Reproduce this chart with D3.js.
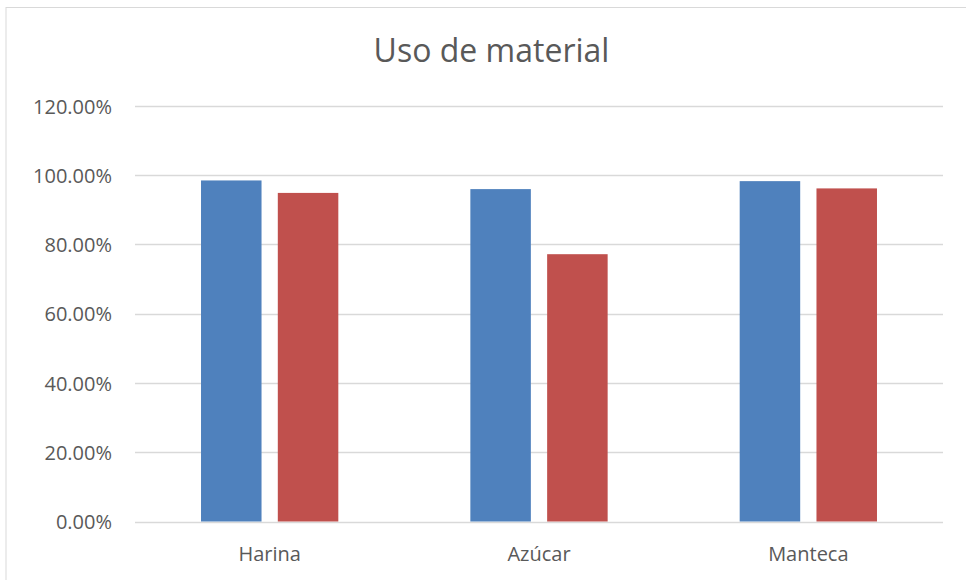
<!DOCTYPE html>
<html><head><meta charset="utf-8">
<script src="https://cdn.jsdelivr.net/npm/d3@7"></script>
<style>body{margin:0;background:#fff;} svg{display:block;}</style>
</head><body>
<script>
const categories = ["Harina", "Azúcar", "Manteca"];
const seriesNames = ["Serie 1", "Serie 2"];
const series1 = [0.985, 0.960, 0.983];
const series2 = [0.949, 0.772, 0.962];
const yTicks = [0, 0.2, 0.4, 0.6, 0.8, 1.0, 1.2];
const colors = ["#4F81BD", "#C0504D"];

(function () {
const W = 966, H = 580;
const svg = d3.select("body").append("svg").attr("width", W).attr("height", H);
svg.append("rect").attr("x", 0).attr("y", 0).attr("width", W).attr("height", H).attr("fill", "#fff");
svg.append("rect").attr("x", 6).attr("y", 7.5).attr("width", W + 10).attr("height", H + 10)
  .attr("fill", "none").attr("stroke", "#d9d9d9").attr("stroke-width", 1);

const mLeft = 135, mRight = 943, mTop = 106, mBottom = 521.5;
const font = "'Open Sans', sans-serif";

const y = d3.scaleLinear().domain([0, 1.2]).range([mBottom, mTop]);
const x0 = d3.scaleBand().domain(categories).range([mLeft, mRight]).padding(0);
const x1 = d3.scaleBand().domain(seriesNames).range([-68.65, 68.65]).paddingInner(0.212).paddingOuter(0);

// grid
svg.append("g").selectAll("line").data(yTicks).join("line")
  .attr("x1", mLeft).attr("x2", mRight)
  .attr("y1", d => Math.round(y(d)) + 0.5).attr("y2", d => Math.round(y(d)) + 0.5)
  .attr("stroke", "#d9d9d9").attr("stroke-width", 1.3);

// y axis labels
const yAxis = d3.axisLeft(y).tickValues(yTicks).tickFormat(d => (d * 100).toFixed(2) + "%").tickSize(0).tickPadding(23);
const ya = svg.append("g").attr("transform", `translate(${mLeft},0)`).call(yAxis);
ya.select(".domain").remove();
ya.selectAll("text").attr("font-family", font).attr("font-size", 20).attr("fill", "#595959").attr("dy", "0.36em");

// bars
const data = categories.map((c, i) => ({ c, vals: [series1[i], series2[i]] }));
const g = svg.append("g").selectAll("g").data(data).join("g")
  .attr("transform", d => `translate(${x0(d.c) + x0.bandwidth() / 2},0)`);
g.selectAll("rect").data(d => d.vals.map((v, j) => ({ v, s: seriesNames[j], j }))).join("rect")
  .attr("x", d => x1(d.s)).attr("width", x1.bandwidth())
  .attr("y", d => y(d.v)).attr("height", d => y(0) - y(d.v))
  .attr("fill", d => colors[d.j]);

// x axis
const xAxis = d3.axisBottom(x0).tickSize(0).tickPadding(25);
const xa = svg.append("g").attr("transform", `translate(0,${mBottom})`).call(xAxis);
xa.select(".domain").remove();
xa.selectAll("text").attr("font-family", font).attr("font-size", 20).attr("fill", "#595959");

// title
svg.append("text").attr("x", 491.5).attr("y", 62).attr("text-anchor", "middle")
  .attr("font-family", font).attr("font-size", 32).attr("fill", "#595959").text("Uso de material");
})();
</script>
</body></html>
